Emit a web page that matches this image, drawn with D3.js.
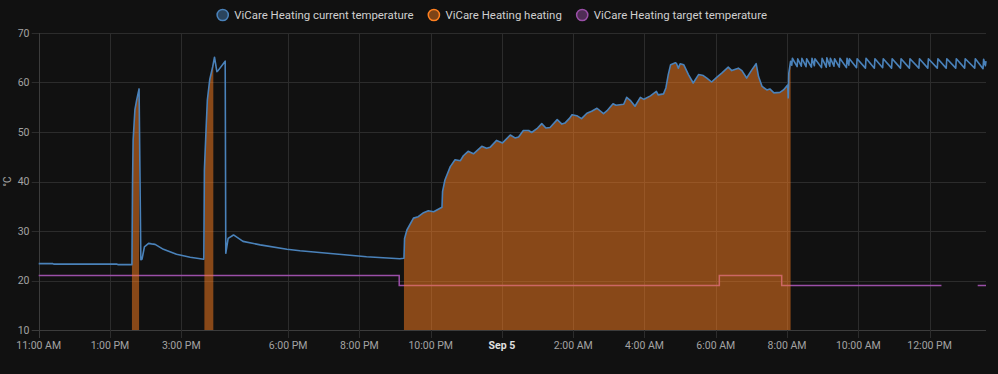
<!DOCTYPE html>
<meta charset="utf-8">
<script src="https://d3js.org/d3.v7.min.js"></script>
<style>
  body { margin: 0; background: #111111; }
  svg { display: block; font-family: Roboto, "Noto Sans", sans-serif; }
</style>
<body>
<script>
// Series names, in legend order
const seriesNames = ["ViCare Heating current temperature", "ViCare Heating heating", "ViCare Heating target temperature"];
const seriesColors = ["#4a82ba", "#ff8020", "#9b4fa8"];

// Current temperature readings (time, °C)
const tempTimes = [
  "09-04 11:00","09-04 11:24","09-04 11:26","09-04 13:12","09-04 13:14","09-04 13:37","09-04 13:38","09-04 13:39",
  "09-04 13:42","09-04 13:45","09-04 13:49","09-04 13:52","09-04 13:54","09-04 13:58","09-04 14:05","09-04 14:10",
  "09-04 14:16","09-04 14:30","09-04 14:52","09-04 15:15","09-04 15:38","09-04 15:39","09-04 15:42","09-04 15:44",
  "09-04 15:48","09-04 15:53","09-04 15:56","09-04 16:00","09-04 16:02","09-04 16:14","09-04 16:15","09-04 16:19",
  "09-04 16:28","09-04 16:44","09-04 17:13","09-04 17:58","09-04 18:20","09-04 19:16","09-04 20:12","09-04 21:08",
  "09-04 21:15","09-04 21:16","09-04 21:20","09-04 21:31","09-04 21:39","09-04 21:48","09-04 21:56","09-04 22:05",
  "09-04 22:19","09-04 22:20","09-04 22:24","09-04 22:33","09-04 22:41","09-04 22:50","09-04 22:55","09-04 23:03",
  "09-04 23:12","09-04 23:26","09-04 23:34","09-04 23:40","09-04 23:51","09-05 00:01","09-05 00:14","09-05 00:22",
  "09-05 00:28","09-05 00:36","09-05 00:45","09-05 00:50","09-05 01:00","09-05 01:07","09-05 01:14","09-05 01:21",
  "09-05 01:33","09-05 01:41","09-05 01:46","09-05 01:54","09-05 01:58","09-05 02:06","09-05 02:14","09-05 02:23",
  "09-05 02:31","09-05 02:40","09-05 02:51","09-05 02:57","09-05 03:07","09-05 03:12","09-05 03:25","09-05 03:30",
  "09-05 03:36","09-05 03:44","09-05 03:53","09-05 03:59","09-05 04:10","09-05 04:20","09-05 04:23","09-05 04:32",
  "09-05 04:36","09-05 04:40","09-05 04:44","09-05 04:52","09-05 04:54","09-05 04:57","09-05 05:00","09-05 05:06",
  "09-05 05:14","09-05 05:22","09-05 05:31","09-05 05:39","09-05 05:45","09-05 05:53","09-05 06:02","09-05 06:10",
  "09-05 06:21","09-05 06:27","09-05 06:38","09-05 06:44","09-05 06:52","09-05 07:01","09-05 07:08","09-05 07:12",
  "09-05 07:18","09-05 07:26","09-05 07:31","09-05 07:38","09-05 07:48","09-05 07:54","09-05 08:01","09-05 08:02",
  "09-05 08:03","09-05 08:06","09-05 08:08","09-05 08:09","09-05 08:17","09-05 08:18","09-05 08:24","09-05 08:25",
  "09-05 08:32","09-05 08:33","09-05 08:41","09-05 08:42","09-05 08:46","09-05 08:47","09-05 08:58","09-05 08:59",
  "09-05 09:06","09-05 09:07","09-05 09:12","09-05 09:13","09-05 09:19","09-05 09:20","09-05 09:28","09-05 09:29",
  "09-05 09:40","09-05 09:41","09-05 09:44","09-05 09:45","09-05 09:57","09-05 09:58","09-05 10:12","09-05 10:13",
  "09-05 10:27","09-05 10:28","09-05 10:41","09-05 10:42","09-05 10:56","09-05 10:57","09-05 11:11","09-05 11:12",
  "09-05 11:26","09-05 11:27","09-05 11:42","09-05 11:43","09-05 11:57","09-05 11:58","09-05 12:13","09-05 12:14",
  "09-05 12:28","09-05 12:29","09-05 12:44","09-05 12:45","09-05 12:59","09-05 13:00","09-05 13:16","09-05 13:17",
  "09-05 13:30","09-05 13:31","09-05 13:34","09-05 13:35"
];
const tempValues = [
  23.4,23.4,23.3,23.3,23.2,23.2,39.7,48.4,
  54.5,56.5,58.7,24.2,24.3,26.8,27.5,27.4,
  27.3,26.3,25.3,24.7,24.3,42.4,51.1,56.5,
  60.6,63.2,65.1,62.2,62.4,64.3,25.5,28.5,
  29.2,27.9,27.2,26.3,26.0,25.4,24.8,24.4,
  24.5,28.5,30.2,32.6,32.9,33.7,34.1,33.9,
  34.8,38.0,40.3,43.0,44.4,44.2,45.2,46.1,
  45.6,47.1,46.7,46.9,48.3,47.8,49.4,48.8,
  49.0,50.3,50.3,49.9,50.8,51.7,50.8,50.9,
  52.5,51.6,51.8,52.8,53.5,53.3,52.7,53.8,
  54.2,54.8,53.7,54.3,55.7,55.4,55.6,57.0,
  56.4,55.2,57.0,56.6,57.3,58.2,57.5,57.7,
  58.9,61.6,63.6,64.0,63.8,62.9,63.8,63.6,
  61.6,59.9,61.6,61.4,60.9,60.1,61.1,61.9,
  63.1,62.4,62.9,62.4,60.9,62.6,63.8,61.2,
  59.2,58.5,58.7,57.9,58.0,58.5,59.5,56.9,
  61.9,64.3,63.5,64.9,63.2,64.8,63.3,64.9,
  63.2,64.8,63.1,64.9,63.4,64.8,63.0,64.9,
  63.1,65.0,63.3,64.9,63.3,64.8,63.1,64.9,
  63.0,64.9,63.5,64.8,63.0,64.8,62.9,64.9,
  62.9,64.8,63.0,64.8,62.9,64.8,62.9,64.8,
  62.9,64.8,62.9,64.8,62.9,64.8,62.9,64.8,
  62.9,64.8,62.9,64.8,62.9,64.8,62.9,64.8,
  62.8,64.7,63.4,64.3
];

// Heating on periods
const heatingStarts = ["09-04 13:37", "09-04 15:39", "09-04 21:15"];
const heatingEnds   = ["09-04 13:49", "09-04 15:54", "09-05 08:06"];

// Target temperature (step), null = no data
const targetTimes  = ["09-04 11:00","09-04 21:07","09-05 06:06","09-05 07:51","09-05 12:20","09-05 12:20","09-05 13:21","09-05 13:35"];
const targetValues = [21, 19, 21, 19, 19, null, 19, 19];

// Axis ticks
const xTicks = ["09-04 11:00","09-04 13:00","09-04 15:00","09-04 18:00","09-04 20:00","09-04 22:00",
                "09-05 00:00","09-05 02:00","09-05 04:00","09-05 06:00","09-05 08:00","09-05 10:00","09-05 12:00"];
const yTicks = [10, 20, 30, 40, 50, 60, 70];

const W = 998, H = 374;
const margin = {top: 33, right: 12, bottom: 44, left: 38.7};
const parse = d3.timeParse("%m-%d %H:%M");

const svg = d3.select("body").append("svg").attr("width", W).attr("height", H);

const x = d3.scaleTime()
  .domain([parse("09-04 11:00"), parse("09-05 13:35")])
  .range([margin.left, W - margin.right]);
const y = d3.scaleLinear().domain([10, 70]).range([H - margin.bottom, margin.top]);

// grid
const grid = svg.append("g").attr("stroke-width", 1);
grid.selectAll(".h").data(yTicks).join("line")
  .attr("x1", margin.left - 7).attr("x2", W - margin.right)
  .attr("y1", d => Math.round(y(d)) + 0.5).attr("y2", d => Math.round(y(d)) + 0.5)
  .attr("stroke", d => d === 10 ? "#3c3c3c" : "#2c2c2c");
grid.selectAll(".v").data(xTicks.map(parse)).join("line")
  .attr("x1", d => Math.round(x(d)) + 0.5).attr("x2", d => Math.round(x(d)) + 0.5)
  .attr("y1", margin.top).attr("y2", H - margin.bottom + 8)
  .attr("stroke", (d, i) => i === 0 ? "#3c3c3c" : "#2c2c2c");

// y tick labels
svg.append("g").selectAll("text").data(yTicks).join("text")
  .attr("x", 29.5).attr("y", d => y(d)).attr("dy", "0.35em")
  .attr("text-anchor", "end").attr("fill", "#a3a3a3").attr("font-size", "10.5px")
  .text(d => d);

// x tick labels
const fmt = d3.timeFormat("%-I:%M %p");
svg.append("g").selectAll("text").data(xTicks.map(parse)).join("text")
  .attr("x", d => x(d)).attr("y", 349)
  .attr("text-anchor", "middle").attr("font-size", "10.5px")
  .attr("fill", d => d.getHours() === 0 ? "#e0e0e0" : "#a3a3a3")
  .attr("font-weight", d => d.getHours() === 0 ? "bold" : null)
  .text(d => d.getHours() === 0 ? d3.timeFormat("%b %-d")(d) : fmt(d));

// y axis title
svg.append("text")
  .attr("transform", `translate(11, ${(margin.top + H - margin.bottom) / 2}) rotate(-90)`)
  .attr("text-anchor", "middle").attr("fill", "#a3a3a3").attr("font-size", "10px")
  .text("°C");

const temp = tempTimes.map((t, i) => ({t: parse(t), v: tempValues[i]}));
const target = targetTimes.map((t, i) => ({t: parse(t), v: targetValues[i]}));

const plot = svg.append("g");

// target temperature
plot.append("path")
  .datum(target)
  .attr("fill", "none").attr("stroke", seriesColors[2]).attr("stroke-width", 1.5)
  .attr("d", d3.line().defined(d => d.v !== null).curve(d3.curveStepAfter)
    .x(d => x(d.t)).y(d => y(d.v)));

// heating: filled under current temperature while on
const bis = d3.bisector(d => d.t).left;
function tempAt(t) {
  const i = bis(temp, t);
  if (i <= 0) return temp[0].v;
  if (i >= temp.length) return temp[temp.length - 1].v;
  const a = temp[i - 1], b = temp[i];
  const f = (t - a.t) / (b.t - a.t);
  return a.v + f * (b.v - a.v);
}
const heatArea = d3.area().x(d => x(d.t)).y0(y(10)).y1(d => y(d.v));
heatingStarts.forEach((s, k) => {
  const t0 = parse(s), t1 = parse(heatingEnds[k]);
  const pts = [{t: t0, v: tempAt(t0)}]
    .concat(temp.filter(d => d.t > t0 && d.t < t1))
    .concat([{t: t1, v: tempAt(t1)}]);
  plot.append("path").datum(pts)
    .attr("fill", seriesColors[1]).attr("fill-opacity", 0.5)
    .attr("d", heatArea);
});

// current temperature
plot.append("path")
  .datum(temp)
  .attr("fill", "none").attr("stroke", seriesColors[0]).attr("stroke-width", 1.6)
  .attr("stroke-linejoin", "round")
  .attr("d", d3.line().x(d => x(d.t)).y(d => y(d.v)));

// legend
const legend = svg.append("g");
let lx = 216.7;
seriesNames.forEach((name, i) => {
  legend.append("circle")
    .attr("cx", lx + 6).attr("cy", 15).attr("r", 5.6)
    .attr("fill", seriesColors[i]).attr("fill-opacity", 0.45)
    .attr("stroke", seriesColors[i]).attr("stroke-width", 1.5);
  const txt = legend.append("text")
    .attr("x", lx + 17.6).attr("y", 19.2)
    .attr("fill", "#cfcfcf").attr("font-size", "11.4px")
    .text(name);
  lx += 17.6 + txt.node().getComputedTextLength() + 14.4;
});
</script>
</body>
